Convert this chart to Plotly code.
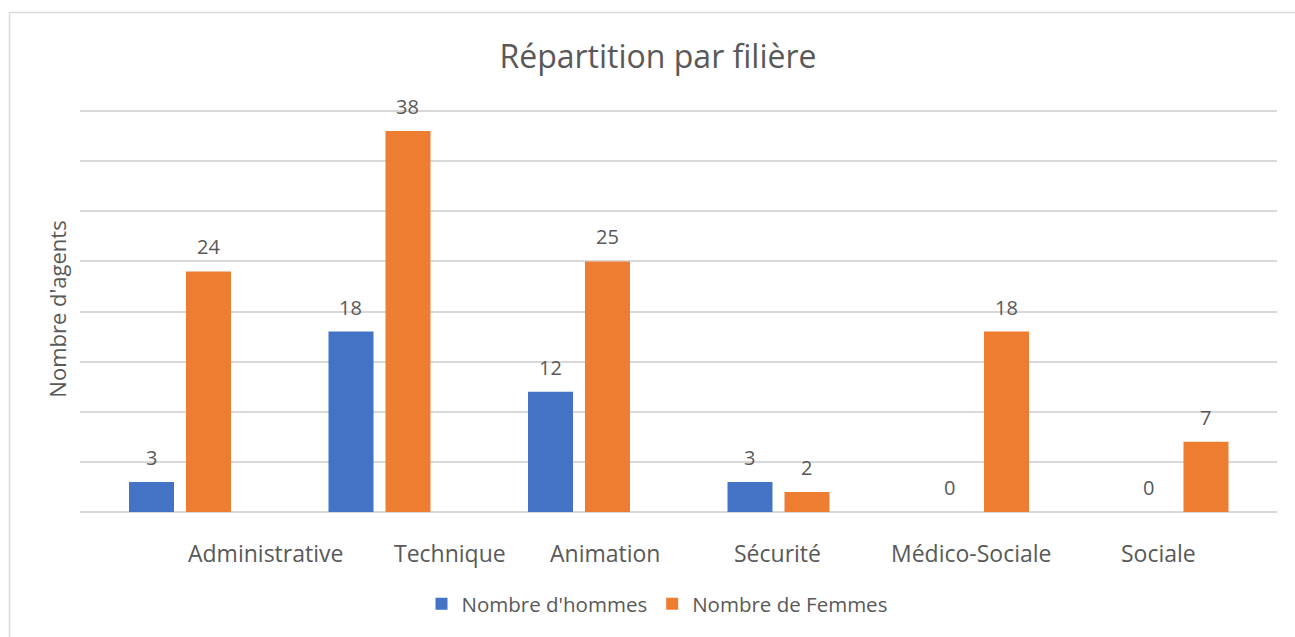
import plotly.graph_objects as go

categories = ["Administrative", "Technique", "Animation", "Sécurité", "Médico-Sociale", "Sociale"]
hommes = [3, 18, 12, 3, 0, 0]
femmes = [24, 38, 25, 2, 18, 7]
series_names = ["Nombre d'hommes", "Nombre de Femmes"]
title_text = "Répartition par filière"
y_title = "Nombre d'agents"

# style
BLUE = "#4472C4"
ORANGE = "#ED7D31"
TXT = "#595959"
GRID = "#D9D9D9"
FONT = "Open Sans"
label_shift_px = [86, 71, 26, -1, -6, -19]  # offsets of category labels (style)

L, R, T, B = 80, 18, 106, 125
W, H = 1295, 637
plot_w = W - L - R
plot_h = H - T - B
Y0 = H - B  # pixel of y=0

fig = go.Figure()
series = [(series_names[0], hommes, BLUE, -0.2544, -28.5),
          (series_names[1], femmes, ORANGE, 0.0313, 28.5)]
for name, vals, col, off, lx in series:
    fig.add_trace(go.Bar(x=categories, y=vals, name=name, marker=dict(color=col, line=dict(width=0)),
                         width=0.2256, offset=off))
    for c, v in zip(categories, vals):
        fig.add_annotation(x=c, y=v, xref="x", yref="y", text=str(v), showarrow=False,
                           xshift=lx, yshift=24.5, yanchor="middle",
                           font=dict(family=FONT, size=20, color=TXT))

for c, s in zip(categories, label_shift_px):
    fig.add_annotation(x=c, y=(Y0 - 553) / plot_h, xref="x", yref="paper", text=c, showarrow=False,
                       xshift=s, yanchor="middle", font=dict(family=FONT, size=23, color=TXT))

# chart border (light gray, visible on left and top)
fig.add_shape(type="rect", xref="paper", yref="paper",
              x0=(9.5 - L) / plot_w, x1=(1310 - L) / plot_w,
              y0=(Y0 - 660) / plot_h, y1=(Y0 - 12.5) / plot_h,
              line=dict(color="#D9D9D9", width=1.5), fillcolor="rgba(0,0,0,0)", layer="below")

fig.update_layout(
    width=W, height=H,
    margin=dict(l=L, r=R, t=T, b=B),
    paper_bgcolor="white", plot_bgcolor="white",
    title=dict(text=title_text, x=658 / W, xanchor="center", y=1 - 57 / H, yanchor="middle",
               font=dict(family=FONT, size=32, color=TXT)),
    showlegend=True,
    legend=dict(orientation="h", x=(657 - L) / plot_w, xanchor="center", y=(Y0 - 604) / plot_h,
                yanchor="middle", font=dict(family=FONT, size=20.5, color=TXT), itemwidth=30),
    xaxis=dict(showticklabels=False, showgrid=False, zeroline=False, showline=False, ticks=""),
    yaxis=dict(range=[0, 40.5], tick0=0, dtick=5, showgrid=True, gridcolor=GRID, gridwidth=1.5,
               zeroline=True, zerolinecolor=GRID, zerolinewidth=1.5,
               showticklabels=False, ticks="",
               title=dict(text=y_title, font=dict(family=FONT, size=22, color=TXT), standoff=6)),
    font=dict(family=FONT, color=TXT),
)

fig.write_html("out.html", post_script="document.body.style.margin='0';",
               config={"displayModeBar": False})
